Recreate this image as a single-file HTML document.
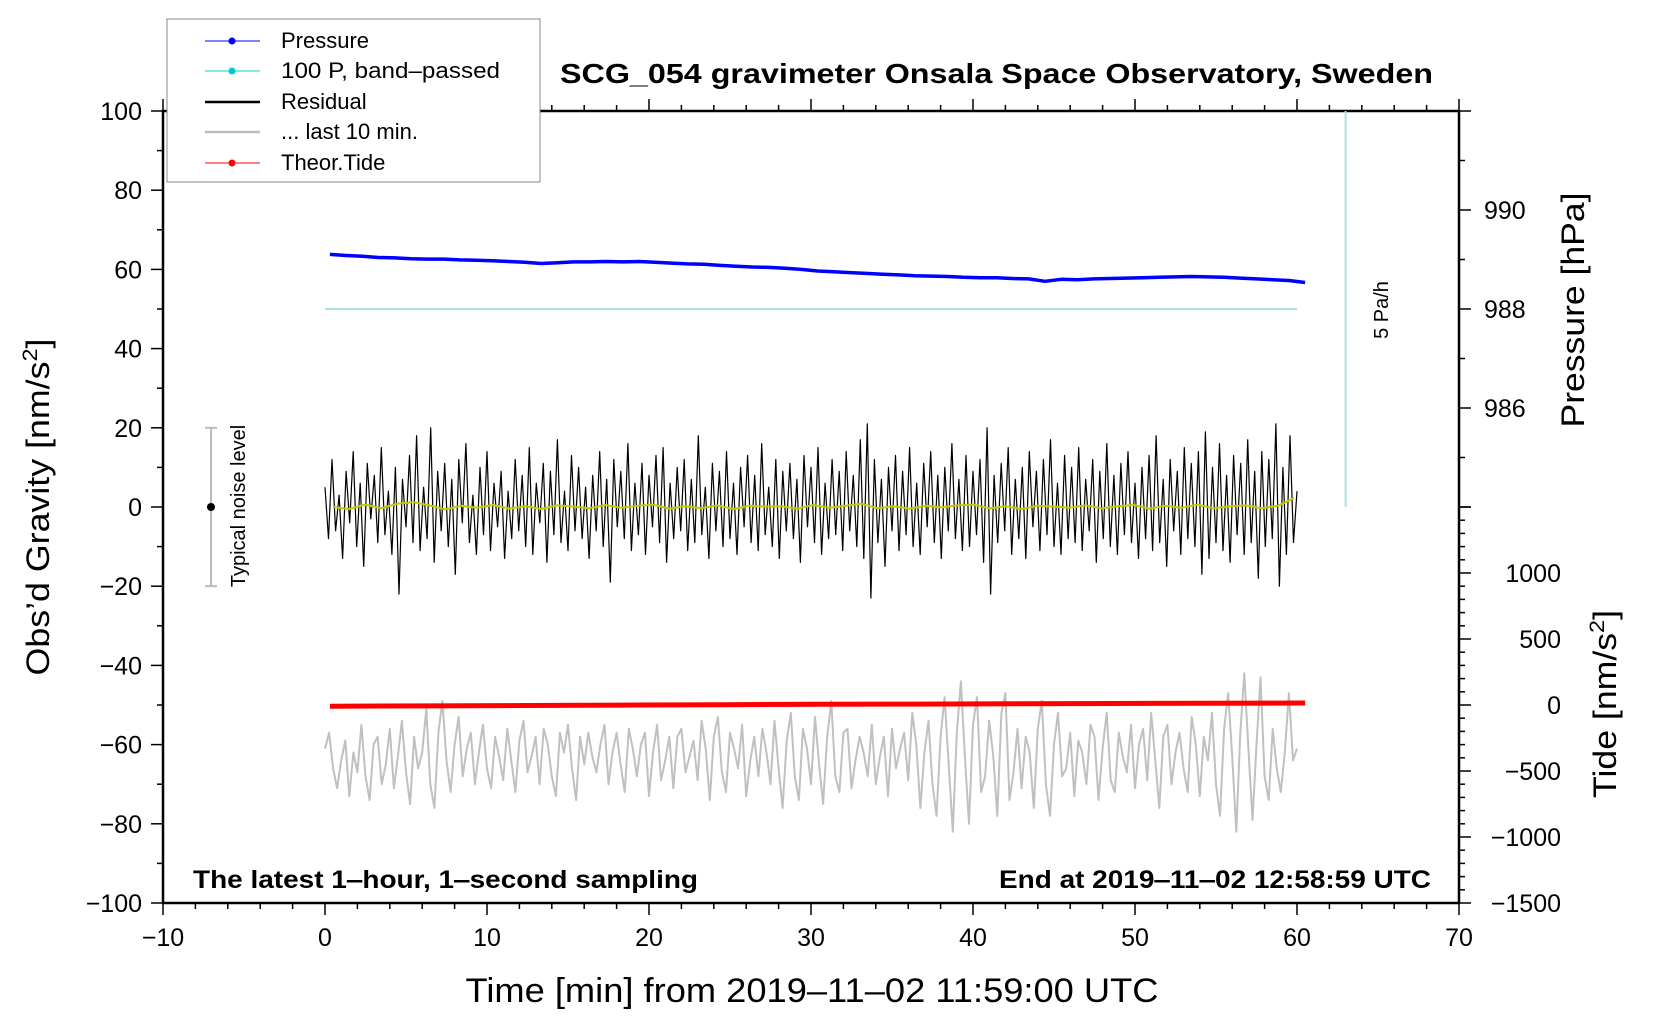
<!DOCTYPE html>
<html><head><meta charset="utf-8"><style>
html,body{margin:0;padding:0;background:#fff}
svg{display:block;font-family:"Liberation Sans",Arial,sans-serif}
</style></head><body>
<svg id="chart" width="1660" height="1020" viewBox="0 0 1660 1020" xmlns="http://www.w3.org/2000/svg">
<g id="axes"></g>
<g id="series"></g>
<text x="560" y="83" font-size="28" font-weight="bold" textLength="873" lengthAdjust="spacingAndGlyphs">SCG_054 gravimeter Onsala Space Observatory, Sweden</text>
<text x="193" y="888" font-size="25" font-weight="bold" textLength="505" lengthAdjust="spacingAndGlyphs">The latest 1‒hour, 1‒second sampling</text>
<text x="1431" y="888" font-size="25" font-weight="bold" text-anchor="end" textLength="432" lengthAdjust="spacingAndGlyphs">End at 2019‒11‒02 12:58:59 UTC</text>
<text x="812" y="1002" font-size="34" text-anchor="middle" textLength="693" lengthAdjust="spacingAndGlyphs">Time [min] from 2019‒11‒02 11:59:00 UTC</text>
<text transform="translate(49,507) rotate(-90)" font-size="32" text-anchor="middle" textLength="337" lengthAdjust="spacingAndGlyphs">Obs’d Gravity [nm/s<tspan font-size="21" dy="-12">2</tspan><tspan dy="12">]</tspan></text>
<text transform="translate(1584,310) rotate(-90)" font-size="32" text-anchor="middle" textLength="235" lengthAdjust="spacingAndGlyphs">Pressure [hPa]</text>
<text transform="translate(1616,704) rotate(-90)" font-size="32" text-anchor="middle" textLength="188" lengthAdjust="spacingAndGlyphs">Tide [nm/s<tspan font-size="21" dy="-12">2</tspan><tspan dy="12">]</tspan></text>
<text transform="translate(1388,310) rotate(-90)" font-size="20" text-anchor="middle">5 Pa/h</text>
<text transform="translate(245,506) rotate(-90)" font-size="20" text-anchor="middle">Typical noise level</text>
<g>
<rect x="167" y="19" width="373" height="163" fill="#fff" stroke="#888" stroke-width="1"/>
<g><line x1="205" y1="41" x2="260" y2="41" stroke="#00f" stroke-width="1"/><circle cx="232" cy="41" r="3.5" fill="#00f"/><text x="281" y="48" font-size="22">Pressure</text></g>
<g><line x1="205" y1="71" x2="260" y2="71" stroke="#0cc" stroke-width="1"/><circle cx="232" cy="71" r="3.5" fill="#0cc"/><text x="281" y="78" font-size="22" textLength="219" lengthAdjust="spacingAndGlyphs">100 P, band‒passed</text></g>
<g><line x1="205" y1="102" x2="260" y2="102" stroke="#000" stroke-width="2.5"/><text x="281" y="109" font-size="22">Residual</text></g>
<g><line x1="205" y1="132" x2="260" y2="132" stroke="#bbb" stroke-width="2.5"/><text x="281" y="139" font-size="22">... last 10 min.</text></g>
<g><line x1="205" y1="163" x2="260" y2="163" stroke="#f00" stroke-width="1"/><circle cx="232" cy="163" r="3.5" fill="#f00"/><text x="281" y="170" font-size="22">Theor.Tide</text></g>
</g>
</svg>
<script>
const xTicks=[-10,0,10,20,30,40,50,60,70];
const yTicks=[100,80,60,40,20,0,-20,-40,-60,-80,-100];
const pTicks=[990,988,986];
const tTicks=[1000,500,0,-500,-1000,-1500];
const pressure=[63.8,63.5,63.3,63.0,62.9,62.7,62.6,62.6,62.4,62.3,62.2,62.0,61.8,61.5,61.7,61.9,61.9,62.0,61.9,62.0,61.8,61.6,61.4,61.3,61.0,60.8,60.6,60.5,60.3,60.0,59.6,59.4,59.2,59.0,58.8,58.6,58.4,58.3,58.2,58.0,57.9,57.9,57.7,57.6,57.0,57.5,57.4,57.6,57.7,57.8,57.9,58.0,58.1,58.2,58.1,58.0,57.8,57.6,57.4,57.2,56.7];
const bandPassed=[50,50];
const residual=[5,-8,12,-6,3,-13,9,-4,14,-10,6,-15,11,-3,8,-9,15,-7,4,-12,10,-22,7,-5,13,-9,18,-11,5,-8,20,-14,9,-6,11,-10,7,-17,12,-4,16,-9,3,-12,10,-7,14,-11,6,-5,9,-13,4,-8,12,-6,8,-10,15,-12,6,-4,11,-14,9,-7,17,-9,4,-11,13,-6,10,-8,5,-13,8,-6,14,-10,7,-19,12,-5,9,-8,16,-11,6,-7,11,-12,8,-5,13,-9,15,-14,6,-8,10,-6,12,-11,7,-9,18,-7,5,-13,11,-6,9,-10,14,-8,6,-12,10,-5,13,-9,8,-11,16,-7,5,-10,12,-13,9,-6,11,-8,7,-14,13,-5,10,-9,15,-12,6,-8,12,-7,9,-11,14,-6,8,-10,17,-13,21,-23,12,-9,7,-15,10,-6,13,-11,9,-7,15,-10,6,-12,11,-5,14,-9,8,-13,10,-6,16,-8,7,-11,13,-10,9,-7,12,-14,20,-22,8,-9,11,-6,15,-12,7,-8,10,-13,14,-5,9,-11,12,-7,17,-10,6,-12,13,-8,10,-9,15,-11,7,-6,12,-14,9,-8,16,-10,8,-12,11,-7,14,-9,6,-13,10,-8,13,-11,18,-9,7,-15,12,-6,9,-12,15,-8,11,-10,14,-17,19,-13,10,-9,16,-11,8,-14,13,-7,11,-12,17,-9,9,-18,14,-10,12,-8,21,-20,10,-12,18,-9,4];
const smoothed=[0,-0.5,0.6,-0.3,0.8,1.2,0.4,-0.6,0.3,-0.2,0.5,-0.4,0.2,-0.5,0.4,0.1,-0.3,0.5,-0.2,0.3,0.6,-0.4,0.2,-0.3,0.4,-0.5,0.3,0.1,0.2,-0.4,0.5,-0.2,0.3,0.8,-0.3,0.2,-0.4,0.3,-0.1,0.4,0.6,-0.3,0.2,-0.5,0.3,0.1,-0.2,0.4,-0.3,0.2,0.5,-0.4,0.3,-0.2,0.6,-0.3,0.2,0.4,-0.3,0.3,2.2];
const lastTen=[-61,-57,-66,-71,-64,-59,-73,-62,-67,-55,-68,-74,-60,-58,-70,-65,-56,-71,-63,-54,-67,-75,-58,-66,-62,-51,-70,-76,-57,-49,-64,-72,-60,-53,-68,-61,-57,-70,-62,-55,-66,-71,-58,-63,-69,-56,-64,-72,-59,-54,-67,-63,-58,-70,-56,-60,-68,-73,-57,-62,-55,-66,-74,-58,-65,-57,-63,-67,-60,-55,-70,-62,-57,-65,-72,-56,-61,-68,-60,-57,-73,-62,-55,-69,-64,-58,-71,-58,-56,-67,-63,-59,-69,-54,-61,-74,-58,-53,-67,-72,-57,-61,-66,-55,-73,-64,-58,-68,-56,-62,-70,-54,-66,-76,-59,-52,-68,-74,-56,-61,-70,-53,-65,-75,-58,-49,-68,-72,-57,-56,-71,-64,-58,-62,-68,-55,-70,-63,-58,-73,-56,-66,-61,-57,-69,-52,-60,-76,-62,-54,-70,-78,-58,-48,-65,-82,-57,-44,-63,-80,-55,-48,-72,-68,-54,-63,-78,-52,-47,-74,-67,-56,-71,-58,-62,-76,-56,-49,-70,-78,-60,-52,-68,-66,-57,-73,-59,-62,-70,-55,-58,-74,-61,-52,-69,-72,-57,-63,-67,-55,-71,-60,-56,-69,-52,-64,-76,-58,-55,-70,-62,-57,-66,-72,-53,-60,-73,-58,-64,-52,-70,-78,-56,-47,-63,-82,-57,-42,-61,-79,-60,-43,-68,-74,-56,-66,-72,-62,-47,-64,-61];
const tide=[-9,-7,-4,-1,2,5,7,9,11,13,15];

const NS='http://www.w3.org/2000/svg';
const L=163,R=1459,T=111,B=903;
const sx=v=>L+(v+10)*(R-L)/80;
const sy=v=>T+(100-v)*(B-T)/200;
const sp=p=>sy(75+(p-990)*12.5);
const st=t=>sy(-50+t/30);
const axes=document.getElementById('axes');
const ser=document.getElementById('series');
function mk(tag,parent,attrs){const e=document.createElementNS(NS,tag);for(const k in attrs)e.setAttribute(k,attrs[k]);parent.appendChild(e);return e;}

let fr=mk('rect',axes,{x:L,y:T,width:R-L,height:B-T,fill:'none',stroke:'#000','stroke-width':2.5});


for(let v=-10;v<=70;v+=2){const major=v%10===0;const len=major?12:6;
 mk('line',axes,{x1:sx(v),x2:sx(v),y1:B,y2:B+len,stroke:'#000','stroke-width':1.5});
 mk('line',axes,{x1:sx(v),x2:sx(v),y1:T,y2:T-len,stroke:'#000','stroke-width':1.5});}
xTicks.forEach(v=>{const t=mk('text',axes,{x:sx(v),y:946,'font-size':25,'text-anchor':'middle'});t.textContent=String(v).replace('-','−');
 
 });
for(let v=-100;v<=100;v+=10){const len=v%20===0?12:6;mk('line',axes,{x1:L,x2:L-len,y1:sy(v),y2:sy(v),stroke:'#000','stroke-width':1.5});}
yTicks.forEach(v=>{const t=mk('text',axes,{x:142,y:sy(v)+9,'font-size':25,'text-anchor':'end'});t.textContent=String(v).replace('-','−');
 
 });
for(let p=984;p<=992;p++){const len=p%2===0?12:6;mk('line',axes,{x1:R,x2:R+len,y1:sp(p),y2:sp(p),stroke:'#000','stroke-width':1.5});}
pTicks.forEach(p=>{const t=mk('text',axes,{x:1484,y:sp(p)+9,'font-size':25});t.textContent=p;
 
 });
for(let v=-1500;v<=1500;v+=100){const len=v%500===0?12:6;mk('line',axes,{x1:R,x2:R+len,y1:st(v),y2:st(v),stroke:'#000','stroke-width':1.5});}
tTicks.forEach(v=>{const t=mk('text',axes,{x:1561,y:st(v)+9,'font-size':25,'text-anchor':'end'});t.textContent=String(v).replace('-','−');
 
 });

function poly(vals,x0,x1,fy,attrs,name){const n=vals.length;const pts=vals.map((v,i)=>sx(x0+(x1-x0)*i/(n-1)).toFixed(1)+','+fy(v).toFixed(1)).join(' ');
 const e=mk('polyline',ser,Object.assign({points:pts,fill:'none','stroke-linejoin':'round'},attrs));
 
 return e;}
let rl=mk('line',ser,{x1:sx(63),x2:sx(63),y1:T,y2:sy(0),stroke:'#aee0e0','stroke-width':2});


poly(lastTen,0,60,sy,{stroke:'#c0c0c0','stroke-width':2},'last-10-min-line');
poly(tide,0.3,60.5,st,{stroke:'#f00','stroke-width':5},'tide-line');
poly(bandPassed,0,60,sy,{stroke:'#aee0e0','stroke-width':2},'band-passed-line');
poly(pressure,0.3,60.5,sy,{stroke:'#00f','stroke-width':3.5},'pressure-line');
poly(residual,0,60,sy,{stroke:'#000','stroke-width':1.2},'residual-line');
poly(smoothed,0.5,59.8,sy,{stroke:'#c8c800','stroke-width':2},'smoothed-residual-line');
let nb=mk('line',ser,{x1:211,x2:211,y1:sy(20),y2:sy(-20),stroke:'#bbb','stroke-width':2});


[20,-20].forEach(v=>mk('line',ser,{x1:205,x2:217,y1:sy(v),y2:sy(v),stroke:'#bbb','stroke-width':2}));
let nd=mk('circle',ser,{cx:211,cy:sy(0),r:4,fill:'#000'});


</script>
</body></html>
